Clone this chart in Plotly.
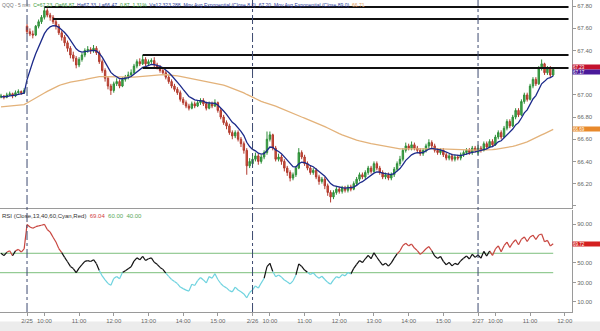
import plotly.graph_objects as go

# ---------------- data (5-minute bars, index 0 = 2/24 15:15) ----------------
bars = list(range(192))

closes = [
    66.99, 66.98, 67.00, 67.01, 66.99, 67.02, 67.03, 67.02, 67.04,
    67.57, 67.55, 67.54, 67.62, 67.66, 67.70, 67.76, 67.72, 67.70, 67.66,
    67.62, 67.56, 67.52, 67.47, 67.42, 67.36, 67.33, 67.27, 67.32, 67.36,
    67.40, 67.41, 67.40, 67.42, 67.38, 67.30, 67.22, 67.15, 67.08, 67.04,
    67.10, 67.12, 67.08, 67.14, 67.16, 67.18, 67.20, 67.26, 67.30, 67.28,
    67.32, 67.28, 67.30, 67.31, 67.27, 67.25, 67.22, 67.20, 67.16, 67.12,
    67.08, 67.05, 67.02, 66.96, 66.93, 66.90, 66.88, 66.92, 66.90, 66.93,
    66.95, 66.92, 66.88, 66.92, 66.90, 66.93, 66.86, 66.80, 66.75, 66.72,
    66.66, 66.63, 66.66, 66.60, 66.56, 66.50, 66.36, 66.40,
    66.42, 66.45, 66.40, 66.44, 66.48, 66.60, 66.64, 66.52, 66.42, 66.44,
    66.40, 66.34, 66.30, 66.25, 66.28, 66.34, 66.48, 66.44, 66.38, 66.34,
    66.30, 66.32, 66.26, 66.22, 66.24, 66.18, 66.12, 66.08, 66.12, 66.15,
    66.13, 66.16, 66.14, 66.17, 66.15, 66.20, 66.24, 66.28, 66.26, 66.30,
    66.34, 66.31, 66.38, 66.34, 66.30, 66.26, 66.28, 66.25, 66.28, 66.33,
    66.38, 66.42, 66.50, 66.54, 66.52, 66.55, 66.52, 66.50, 66.47, 66.50,
    66.54, 66.57, 66.54, 66.50, 66.48, 66.50, 66.46, 66.43, 66.45, 66.42,
    66.44, 66.43, 66.46, 66.48, 66.50, 66.48, 66.52, 66.50,
    66.52, 66.50, 66.56, 66.53, 66.58, 66.55, 66.62, 66.66, 66.62, 66.70,
    66.76, 66.72, 66.80, 66.86, 66.82, 66.94, 67.00, 66.96, 67.08, 67.14,
    67.10, 67.24, 67.28, 67.20, 67.24, 67.18, 67.23,
]

highs = [
    67.01, 67.00, 67.02, 67.03, 67.02, 67.04, 67.05, 67.04, 67.06,
    67.64, 67.60, 67.58, 67.63, 67.68, 67.72, 67.79, 67.78, 67.74, 67.72,
    67.68, 67.64, 67.58, 67.54, 67.49, 67.44, 67.39, 67.35, 67.34, 67.38,
    67.42, 67.44, 67.43, 67.45, 67.44, 67.40, 67.32, 67.24, 67.17, 67.10,
    67.12, 67.15, 67.14, 67.16, 67.18, 67.21, 67.23, 67.28, 67.32, 67.33,
    67.36, 67.34, 67.32, 67.33, 67.34, 67.29, 67.27, 67.24, 67.22, 67.18,
    67.14, 67.10, 67.07, 67.04, 66.98, 66.95, 66.92, 66.94, 66.94, 66.95,
    66.97, 66.97, 66.94, 66.94, 66.94, 66.96, 66.94, 66.88, 66.82, 66.77,
    66.74, 66.68, 66.68, 66.68, 66.62, 66.58, 66.52, 66.43,
    66.46, 66.48, 66.47, 66.46, 66.50, 66.67, 66.67, 66.65, 66.54, 66.47,
    66.46, 66.42, 66.36, 66.32, 66.30, 66.36, 66.52, 66.50, 66.46, 66.40,
    66.36, 66.34, 66.34, 66.28, 66.26, 66.26, 66.20, 66.14, 66.14, 66.17,
    66.17, 66.18, 66.18, 66.19, 66.19, 66.22, 66.26, 66.30, 66.30, 66.32,
    66.36, 66.36, 66.40, 66.40, 66.36, 66.32, 66.30, 66.30, 66.30, 66.35,
    66.40, 66.45, 66.52, 66.57, 66.56, 66.58, 66.57, 66.54, 66.52, 66.52,
    66.56, 66.60, 66.59, 66.56, 66.52, 66.52, 66.52, 66.48, 66.47, 66.47,
    66.46, 66.46, 66.48, 66.50, 66.52, 66.52, 66.54, 66.54,
    66.55, 66.54, 66.58, 66.58, 66.60, 66.60, 66.64, 66.68, 66.68, 66.72,
    66.78, 66.78, 66.82, 66.88, 66.88, 66.96, 67.02, 67.02, 67.10, 67.16,
    67.16, 67.26, 67.32, 67.29, 67.26, 67.26, 67.25,
]

lows = [
    66.97, 66.96, 66.97, 66.99, 66.97, 66.98, 67.01, 67.00, 67.01,
    67.55, 67.53, 67.51, 67.53, 67.60, 67.64, 67.68, 67.70, 67.67, 67.64,
    67.59, 67.54, 67.49, 67.44, 67.39, 67.33, 67.30, 67.24, 67.25, 67.30,
    67.34, 67.38, 67.37, 67.38, 67.36, 67.28, 67.20, 67.12, 67.05, 67.00,
    67.02, 67.08, 67.06, 67.07, 67.12, 67.14, 67.16, 67.19, 67.24, 67.26,
    67.27, 67.26, 67.26, 67.28, 67.25, 67.23, 67.20, 67.18, 67.14, 67.10,
    67.06, 67.03, 67.00, 66.94, 66.91, 66.88, 66.86, 66.87, 66.88, 66.89,
    66.91, 66.90, 66.86, 66.87, 66.88, 66.89, 66.84, 66.78, 66.73, 66.69,
    66.64, 66.60, 66.61, 66.58, 66.53, 66.47, 66.28, 66.34,
    66.35, 66.40, 66.37, 66.38, 66.42, 66.46, 66.58, 66.50, 66.40, 66.40,
    66.37, 66.31, 66.27, 66.22, 66.23, 66.26, 66.33, 66.42, 66.36, 66.32,
    66.28, 66.28, 66.24, 66.19, 66.20, 66.15, 66.09, 66.03, 66.06, 66.10,
    66.11, 66.11, 66.12, 66.12, 66.13, 66.14, 66.18, 66.22, 66.24, 66.24,
    66.28, 66.29, 66.30, 66.32, 66.28, 66.24, 66.24, 66.23, 66.23, 66.26,
    66.31, 66.36, 66.40, 66.48, 66.50, 66.50, 66.50, 66.48, 66.45, 66.45,
    66.48, 66.52, 66.52, 66.48, 66.46, 66.46, 66.44, 66.41, 66.41, 66.40,
    66.40, 66.41, 66.41, 66.44, 66.46, 66.46, 66.46, 66.48,
    66.46, 66.48, 66.49, 66.51, 66.52, 66.53, 66.54, 66.60, 66.60, 66.61,
    66.68, 66.70, 66.71, 66.78, 66.80, 66.81, 66.92, 66.94, 66.95, 67.06,
    67.08, 67.09, 67.22, 67.18, 67.18, 67.16, 67.17,
]

first_open = 66.98
day_open_bars = [9, 87, 165]
day_open_prices = [67.62, 66.38, 66.48]

ema_fast_period, ema_fast_seed = 8, 66.98
ema_slow_period, ema_slow_seed = 89, 66.89
rsi_period, rsi_gain_seed, rsi_loss_seed = 13, 0.012, 0.008

# resistance rays: price level and starting bar
ray_levels = [67.793, 67.685, 67.36, 67.243]
ray_start_bars = [15, 18, 49, 49]

day_sep_bars = [9, 87, 165]

tick_bars = [9, 15, 27, 39, 51, 63, 75, 87, 93, 105, 117, 129, 141, 153, 165, 171, 183, 195]
tick_text = ["2/25", "10:00", "11:00", "12:00", "13:00", "14:00", "15:00",
             "2/26", "10:00", "11:00", "12:00", "13:00", "14:00", "15:00",
             "2/27", "10:00", "11:00", "12:00"]

price_ticks = [66.0, 66.2, 66.4, 66.6, 66.8, 67.0, 67.2, 67.4, 67.6, 67.8]
price_hidden = [66.0, 67.2]          # labels covered by the value boxes / bottom edge
rsi_ticks = [10, 30, 50, 70, 90]
rsi_hidden = [70]
rsi_bands = [60, 40]

# ---------------- derived series ----------------
opens = [first_open] + closes[:-1]
for b, p in zip(day_open_bars, day_open_prices):
    opens[b] = p


def ema(vals, period, seed):
    a = 2.0 / (period + 1)
    e = seed
    out = []
    for v in vals:
        e = e + a * (v - e)
        out.append(e)
    return out


ema_fast = ema(closes, ema_fast_period, ema_fast_seed)
ema_slow = ema(closes, ema_slow_period, ema_slow_seed)

ag, al = rsi_gain_seed, rsi_loss_seed
rsi = []
for i, c in enumerate(closes):
    if i > 0:
        ch = c - closes[i - 1]
        ag = (ag * (rsi_period - 1) + max(ch, 0)) / rsi_period
        al = (al * (rsi_period - 1) + max(-ch, 0)) / rsi_period
    rsi.append(100 - 100 / (1 + ag / al))

# split RSI into coloured segments
seg = {"red": ([], []), "black": ([], []), "cyan": ([], [])}
for i in range(1, len(rsi)):
    m = (rsi[i] + rsi[i - 1]) / 2
    k = "red" if m > 60 else ("cyan" if m < 40 else "black")
    xs, ys = seg[k]
    xs += [bars[i - 1], bars[i], None]
    ys += [rsi[i - 1], rsi[i], None]

XR = [-0.35, 197.5]
PR = [65.98, 67.856]
RR = [-0.5, 104.6]
H_PLOT = 312.0
FONT = "Liberation Sans, Arial, sans-serif"

fig = go.Figure()

fig.add_trace(go.Scatter(x=bars, y=ema_slow, mode="lines", xaxis="x2", yaxis="y",
                         line=dict(color="#e3b27a", width=1.3), hoverinfo="skip"))
fig.add_trace(go.Candlestick(x=bars, open=opens, high=highs, low=lows, close=closes,
                             xaxis="x2", yaxis="y", whiskerwidth=0,
                             increasing=dict(line=dict(color="#2f8f3a", width=1), fillcolor="#45a84f"),
                             decreasing=dict(line=dict(color="#b23a2e", width=1), fillcolor="#cf5a40")))
fig.add_trace(go.Scatter(x=bars, y=ema_fast, mode="lines", xaxis="x2", yaxis="y",
                         line=dict(color="#1c2a8a", width=1.3), hoverinfo="skip"))

for lv in rsi_bands:
    fig.add_trace(go.Scatter(x=[XR[0], bars[-1]], y=[lv, lv], mode="lines", xaxis="x", yaxis="y2",
                             line=dict(color="#7cbf7c", width=1), hoverinfo="skip"))
cols = {"red": "#c8453f", "black": "#111111", "cyan": "#6fd3df"}
for k, (xs, ys) in seg.items():
    fig.add_trace(go.Scatter(x=xs, y=ys, mode="lines", xaxis="x", yaxis="y2",
                             line=dict(color=cols[k], width=1.2), hoverinfo="skip"))

shapes = []
for lv, sb in zip(ray_levels, ray_start_bars):
    shapes.append(dict(type="line", xref="x2", yref="y", x0=sb, x1=XR[1] - 1.2, y0=lv, y1=lv,
                       line=dict(color="#111111", width=2)))
for b in day_sep_bars:
    shapes.append(dict(type="line", xref="x", yref="paper", x0=b, x1=b, y0=0, y1=1,
                       line=dict(color="#3c4a70", width=1, dash="dashdot")))
# bottom status strip
shapes.append(dict(type="rect", xref="paper", yref="paper", x0=-0.01, x1=600 / 572.0,
                   y0=-19 / H_PLOT, y1=-9.5 / H_PLOT, fillcolor="#ececec", line=dict(width=0),
                   layer="below"))

annotations = []
header = ("<span style='color:#777'>QQQ - 5 min</span>  "
          "<span style='color:#3a9a3a'>C=67.23  O=66.87</span>  "
          "<span style='color:#2a3a9a'>H=67.33  L=66.47</span>  "
          "<span style='color:#3a9a3a'>0.87  1.31%</span>  "
          "<span style='color:#2a3a9a'>V=12,323,288  Mov Avg Exponential (Close,8,0)  67.20  "
          "Mov Avg Exponential (Close,89,0)</span>  "
          "<span style='color:#e0a060'>66.71</span>")
annotations.append(dict(xref="paper", yref="paper", x=0, y=1.0, xanchor="left", yanchor="top",
                        text=header, showarrow=False, font=dict(size=5, family=FONT)))
rsi_top = 102 / H_PLOT
annotations.append(dict(xref="paper", yref="paper", x=0, y=rsi_top - 0.003, xanchor="left", yanchor="top",
                        text=("<span style='color:#333'>RSI (Close,13,40,60,Cyan,Red)</span>  "
                              "<span style='color:#d04040'>69.04</span>  "
                              "<span style='color:#5aa85a'>60.00  40.00</span>"),
                        showarrow=False, font=dict(size=6, family=FONT)))


def box(yref, yv, txt, bg, shift=0):
    return dict(xref="paper", yref=yref, x=1.0, y=yv, xanchor="left", yanchor="middle",
                yshift=shift, text=txt, showarrow=False, bgcolor=bg, width=27, height=4,
                borderpad=0, align="left", font=dict(size=4.5, color="white", family=FONT))


annotations.append(box("y", closes[-1], "%.2f" % closes[-1], "#c4122e", 2.5))
annotations.append(box("y", closes[-1], "%.2f" % ema_fast[-1], "#4a1a9a", -2.5))
annotations.append(box("y", ema_slow[-1], "%.2f" % ema_slow[-1], "#e8892b"))
annotations.append(box("y2", rsi[-1], "%.2f" % rsi[-1], "#d42020"))

axis_font = dict(size=6, color="#666666", family=FONT)
fig.update_layout(
    width=600, height=331, margin=dict(l=0, r=28, t=0, b=19),
    paper_bgcolor="white", plot_bgcolor="white", showlegend=False,
    xaxis=dict(domain=[0, 1], anchor="y2", range=XR, tickvals=tick_bars, ticktext=tick_text,
               showgrid=False, zeroline=False, showline=True, linecolor="#9a9a9a",
               ticks="outside", ticklen=3, tickcolor="#9a9a9a", tickfont=axis_font,
               rangeslider=dict(visible=False)),
    xaxis2=dict(domain=[0, 1], anchor="y", matches="x", range=XR, showticklabels=False,
                showgrid=False, zeroline=False, showline=True, linecolor="#9a9a9a", ticks="",
                rangeslider=dict(visible=False)),
    yaxis=dict(domain=[1 - 208 / H_PLOT, 1], anchor="x2", side="right", range=PR,
               tickvals=price_ticks,
               ticktext=["" if v in price_hidden else "%.2f" % v for v in price_ticks],
               showgrid=False, zeroline=False, showline=True, linecolor="#9a9a9a",
               ticks="outside", ticklen=3, tickcolor="#9a9a9a", tickfont=axis_font),
    yaxis2=dict(domain=[0, rsi_top], anchor="x", side="right", range=RR,
                tickvals=rsi_ticks,
                ticktext=["" if v in rsi_hidden else "%.2f" % v for v in rsi_ticks],
                showgrid=False, zeroline=False, showline=True, linecolor="#9a9a9a",
                ticks="outside", ticklen=3, tickcolor="#9a9a9a", tickfont=axis_font),
    shapes=shapes, annotations=annotations,
)

fig.write_html("out.html")
